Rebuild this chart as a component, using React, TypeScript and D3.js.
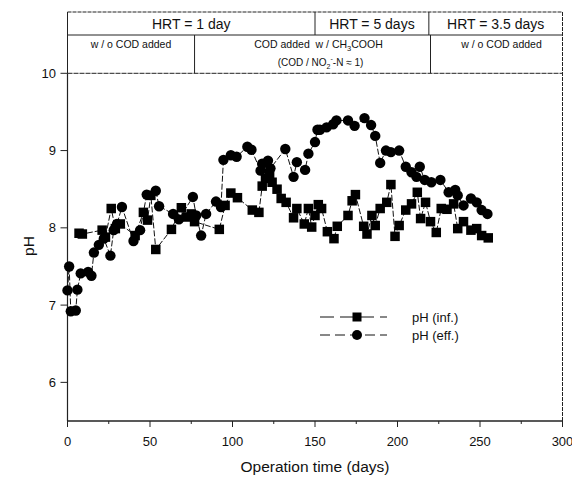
import React from "react";
import * as d3 from "d3";

const infDays = [7, 9, 21, 23, 26.5, 29, 32, 41, 46, 48.5, 50.5, 53.5, 63, 69, 72, 75, 77, 92, 95.5, 99, 103, 112, 116, 118, 120, 122.5, 124, 127, 129.5, 132.5, 137, 139, 143.5, 146, 148, 150, 152, 154, 157.5, 161.5, 163.5, 170, 172.5, 174.5, 179.5, 181.5, 184.5, 186.5, 189.5, 193.5, 196, 198.5, 201, 205, 208.5, 212, 214, 217, 220, 223.5, 226.5, 230, 234, 236.5, 240, 244.5, 248, 251, 255];
const infPH = [7.93, 7.92, 7.97, 7.88, 8.25, 7.99, 8.05, 7.9, 8.2, 8.1, 8.42, 7.72, 7.98, 8.26, 8.14, 8.18, 8.08, 7.98, 8.29, 8.45, 8.39, 8.23, 8.2, 8.54, 8.64, 8.7, 8.59, 8.5, 8.38, 8.33, 8.13, 8.25, 8.05, 8.25, 8.01, 8.16, 8.3, 8.25, 7.95, 7.86, 8.02, 8.16, 8.35, 8.43, 8.02, 7.92, 8.16, 8.03, 8.25, 8.33, 8.56, 7.89, 8.03, 8.23, 8.31, 8.46, 8.12, 8.33, 8.08, 7.94, 8.25, 8.24, 8.31, 7.99, 8.08, 7.97, 7.99, 7.9, 7.87];

const effDays = [0, 1, 2, 5, 6, 8, 12.5, 14.5, 16, 19, 22, 26, 28, 30, 33, 40, 44, 48, 53.5, 55.5, 64, 67.5, 76, 78, 81, 84, 90, 93, 94.5, 99, 102.5, 109, 111.5, 117, 118, 121.5, 123, 132, 137, 139, 144, 146, 150, 151.5, 153, 157, 161, 163, 170, 174, 180, 184, 186.5, 189.5, 193, 196, 201, 205, 208.5, 211.5, 213.5, 216.5, 220.5, 226, 231, 235, 236.5, 240, 244.5, 248, 251, 254.5];
const effPH = [7.19, 7.5, 6.92, 6.93, 7.2, 7.41, 7.43, 7.38, 7.68, 7.78, 7.86, 7.64, 7.97, 8.05, 8.27, 7.83, 7.97, 8.43, 8.48, 8.28, 8.18, 8.11, 8.4, 8.16, 7.9, 8.18, 8.34, 8.27, 8.88, 8.94, 8.92, 9.05, 9.01, 8.74, 8.83, 8.87, 8.77, 9.02, 8.66, 8.85, 8.75, 8.96, 9.11, 9.27, 9.27, 9.3, 9.34, 9.39, 9.39, 9.32, 9.42, 9.33, 9.19, 8.84, 9.0, 8.98, 9.0, 8.79, 8.72, 8.66, 8.79, 8.62, 8.59, 8.62, 8.46, 8.49, 8.42, 8.29, 8.38, 8.33, 8.23, 8.18];

const xTicks = [0, 50, 100, 150, 200, 250, 300];
const xMinor = [25, 75, 125, 175, 225, 275];
const yTicks = [6, 7, 8, 9, 10];

const hrtBounds = [0, 150, 219, 300];
const hrtLabels = ["HRT = 1 day", "HRT = 5 days", "HRT = 3.5 days"];
const codBounds = [0, 77, 220, 300];

const FONT = "'Liberation Sans', Arial, Helvetica, sans-serif";

export default function App() {
  const x = d3.scaleLinear().domain([0, 300]).range([67.5, 562.5]);
  const y = d3.scaleLinear().domain([5.5, 10]).range([421, 73.3]);
  const headTop = 12;
  const headMid = 35;
  const plotTop = y(10);
  const plotBottom = y(5.5);
  const left = x(0);
  const right = x(300);

  const inf = infDays.map((d, i) => [d, infPH[i]] as [number, number]);
  const eff = effDays.map((d, i) => [d, effPH[i]] as [number, number]);
  const line = d3
    .line<[number, number]>()
    .x((d) => x(d[0]))
    .y((d) => y(d[1]));

  const sq = 9.5;
  const r = 5.2;

  const codCenters = [
    (x(codBounds[0]) + x(codBounds[1])) / 2,
    (x(codBounds[1]) + x(codBounds[2])) / 2,
    (x(codBounds[2]) + x(codBounds[3])) / 2,
  ];

  return (
    <svg
      width={572}
      height={479}
      style={{ position: "absolute", left: 0, top: 0, background: "#fff" }}
      fontFamily={FONT}
    >
      {/* header box */}
      <g stroke="#222" strokeWidth={1} fill="none">
        <line x1={left} x2={right} y1={headTop} y2={headTop} strokeDasharray="4,1" />
        <line x1={left} x2={right} y1={headMid} y2={headMid} />
        <line x1={left} x2={left} y1={headTop} y2={plotTop} />
        <line x1={right} x2={right} y1={headTop} y2={plotBottom} strokeDasharray="4,1" />
        {hrtBounds.slice(1, -1).map((b) => (
          <line key={"h" + b} x1={x(b)} x2={x(b)} y1={headTop} y2={headMid} />
        ))}
        {codBounds.slice(1, -1).map((b) => (
          <line key={"c" + b} x1={x(b)} x2={x(b)} y1={headMid} y2={plotTop} />
        ))}
      </g>
      {hrtLabels.map((t, i) => (
        <text
          key={t}
          x={(x(hrtBounds[i]) + x(hrtBounds[i + 1])) / 2}
          y={28.5}
          textAnchor="middle"
          fontSize={14}
          fill="#111"
        >
          {t}
        </text>
      ))}
      <text x={codCenters[0]} y={48} textAnchor="middle" fontSize={10.5} fill="#111">
        w / o COD added
      </text>
      <text x={codCenters[1] + 6} y={48} textAnchor="middle" fontSize={10.5} fill="#111">
        {"COD added\u00A0\u00A0w / CH"}
        <tspan fontSize={7.5} dy={3}>3</tspan>
        <tspan dy={-3}>COOH</tspan>
      </text>
      <text x={codCenters[1] + 8} y={66} textAnchor="middle" fontSize={10} fill="#111">
        (COD / NO
        <tspan fontSize={7} dy={3}>2</tspan>
        <tspan fontSize={7} dy={-8}>-</tspan>
        <tspan dy={5}>-N ≈ 1)</tspan>
      </text>
      <text x={codCenters[2] + 5} y={48} textAnchor="middle" fontSize={10.5} fill="#111">
        w / o COD added
      </text>

      {/* axes frame */}
      <g stroke="#222" strokeWidth={1}>
        <line x1={left} x2={right} y1={plotTop} y2={plotTop} strokeDasharray="5,1" />
        <line x1={left} x2={right} y1={plotBottom} y2={plotBottom} strokeWidth={1.3} />
        <line x1={left} x2={left} y1={plotTop} y2={plotBottom} strokeWidth={1.2} />
        {xTicks.map((t) => (
          <line key={"xt" + t} x1={x(t)} x2={x(t)} y1={plotBottom} y2={plotBottom + 6} />
        ))}
        {xMinor.map((t) => (
          <line key={"xm" + t} x1={x(t)} x2={x(t)} y1={plotBottom} y2={plotBottom + 3} />
        ))}
        {yTicks.map((t) => (
          <line key={"yt" + t} x1={left - 7} x2={left} y1={y(t)} y2={y(t)} />
        ))}
      </g>
      {xTicks.map((t) => (
        <text key={"xl" + t} x={x(t)} y={446} textAnchor="middle" fontSize={13} fill="#111">
          {t}
        </text>
      ))}
      {yTicks.map((t) => (
        <text key={"yl" + t} x={56} y={y(t) + 4.5} textAnchor="end" fontSize={13} fill="#111">
          {t}
        </text>
      ))}
      <text x={315} y={472} textAnchor="middle" fontSize={15.5} fill="#111">
        Operation time (days)
      </text>
      <text
        transform={`translate(34,246) rotate(-90)`}
        textAnchor="middle"
        fontSize={15.5}
        fill="#111"
      >
        pH
      </text>

      {/* series lines */}
      <path d={line(inf) || ""} fill="none" stroke="#111" strokeWidth={1} strokeDasharray="6,2" />
      <path d={line(eff) || ""} fill="none" stroke="#111" strokeWidth={1} strokeDasharray="6,2" />
      {inf.map((d, i) => (
        <rect key={"s" + i} x={x(d[0]) - sq / 2} y={y(d[1]) - sq / 2} width={sq} height={sq} fill="#000" />
      ))}
      {eff.map((d, i) => (
        <circle key={"c" + i} cx={x(d[0])} cy={y(d[1])} r={r} fill="#000" />
      ))}

      {/* legend */}
      <g>
        <line x1={320} x2={387} y1={317} y2={317} stroke="#111" strokeWidth={1} strokeDasharray="14,6" />
        <rect x={357 - 4.5} y={317 - 4.5} width={9} height={9} fill="#000" />
        <text x={412} y={322} fontSize={13} fill="#111">pH (inf.)</text>
        <line x1={320} x2={387} y1={335} y2={335} stroke="#111" strokeWidth={1} strokeDasharray="10,5" />
        <circle cx={357} cy={335} r={5} fill="#000" />
        <text x={412} y={340} fontSize={13} fill="#111">pH (eff.)</text>
      </g>
    </svg>
  );
}
